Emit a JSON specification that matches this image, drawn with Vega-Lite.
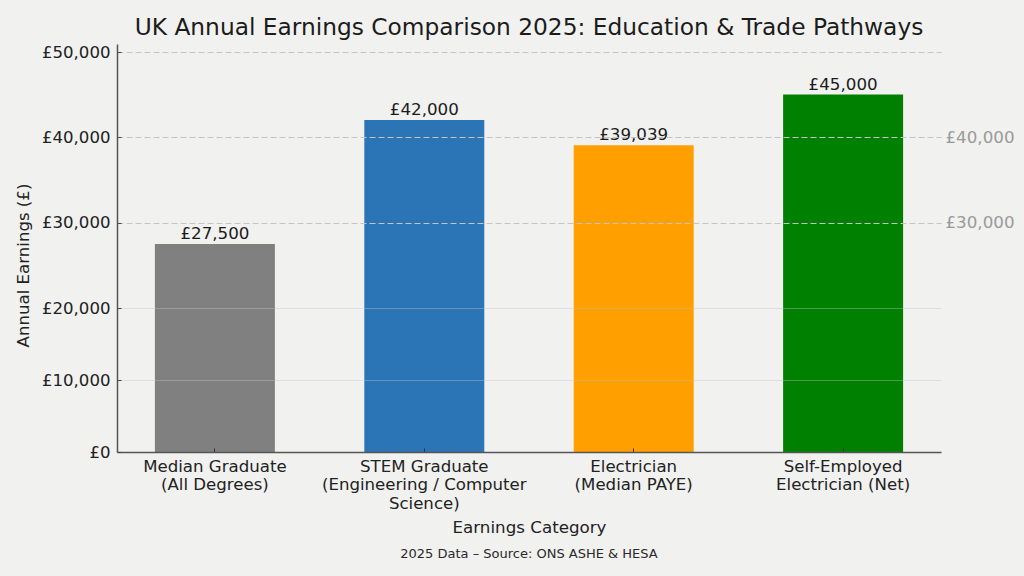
{
  "$schema": "https://vega.github.io/schema/vega-lite/v6.json",
  "width": 824,
  "height": 408,
  "autosize": "none",
  "padding": {"left": 117, "top": 44, "right": 83, "bottom": 124},
  "background": "#f1f1f0",
  "title": {
    "text": "UK Annual Earnings Comparison 2025: Education & Trade Pathways",
    "subtitle": "2025 Data – Source: ONS ASHE & HESA",
    "anchor": "middle",
    "frame": "group",
    "font": "DejaVu Sans",
    "fontWeight": "normal",
    "fontSize": 23.3,
    "color": "#1c1c1c",
    "subtitleFont": "DejaVu Sans",
    "subtitleFontSize": 13,
    "subtitleColor": "#2a2a2a",
    "subtitlePadding": 508,
    "offset": -518
  },
  "data": {
    "values": [
      {"category": "Median Graduate|(All Degrees)", "earnings": 27500, "label": "£27,500", "color": "#808080"},
      {"category": "STEM Graduate|(Engineering / Computer|Science)", "earnings": 42000, "label": "£42,000", "color": "#2b75b6"},
      {"category": "Electrician|(Median PAYE)", "earnings": 39039, "label": "£39,039", "color": "#ff9f00"},
      {"category": "Self-Employed|Electrician (Net)", "earnings": 45000, "label": "£45,000", "color": "#008000"}
    ]
  },
  "encoding": {
    "x": {
      "field": "category",
      "type": "nominal",
      "sort": null,
      "scale": {"paddingInner": 0.427, "paddingOuter": 0.181},
      "axis": {
        "title": "Earnings Category",
        "titleFont": "DejaVu Sans",
        "titleFontSize": 16.7,
        "titleFontWeight": "normal",
        "titleColor": "#222222",
        "titlePadding": 8,
        "labelAngle": 0,
        "labelFont": "DejaVu Sans",
        "labelFontSize": 16.6,
        "labelColor": "#222222",
        "labelLineHeight": 18.5,
        "labelPadding": 10,
        "labelExpr": "split(datum.value, '|')",
        "labelLimit": 0,
        "domainColor": "#555555",
        "domainWidth": 1.5,
        "tickColor": "#333333",
        "tickSize": -4,
        "zindex": 1
      }
    },
    "y": {
      "field": "earnings",
      "type": "quantitative",
      "scale": {
        "domain": [0, 10000, 20000, 30000, 40000, 50000, 51000],
        "range": [408, 336, 264, 178.5, 93, 8, 0]
      }
    }
  },
  "layer": [
    {
      "mark": {"type": "bar"},
      "encoding": {
        "color": {"field": "color", "type": "nominal", "scale": null},
        "y": {
          "field": "earnings",
          "type": "quantitative",
          "axis": {
            "title": "Annual Earnings (£)",
            "titleFont": "DejaVu Sans",
            "titleFontSize": 16.6,
            "titleFontWeight": "normal",
            "titleColor": "#222222",
            "titlePadding": 10,
            "titleY": 221,
            "values": [0, 10000, 20000, 30000, 40000, 50000],
            "labelExpr": "'£' + format(datum.value, ',')",
            "labelFont": "DejaVu Sans",
            "labelFontSize": 16.6,
            "labelColor": "#222222",
            "labelPadding": 11,
            "domainColor": "#555555",
            "domainWidth": 1.5,
            "tickColor": "#444444",
            "tickSize": -4,
            "grid": true,
            "gridColor": "#c4c4c4",
            "gridOpacity": {"condition": {"test": "datum.value >= 30000", "value": 1}, "value": 0.4},
            "gridDash": {"condition": {"test": "datum.value >= 30000", "value": [6, 3]}, "value": []},
            "zindex": 1
          }
        }
      }
    },
    {
      "mark": {
        "type": "text",
        "baseline": "bottom",
        "dy": -1,
        "font": "DejaVu Sans",
        "fontSize": 16.7,
        "color": "#1c1c1c"
      },
      "encoding": {
        "text": {"field": "label", "type": "nominal"},
        "y": {
          "field": "earnings",
          "type": "quantitative",
          "axis": {
            "orient": "right",
            "title": null,
            "values": [30000, 40000],
            "labelExpr": "'£' + format(datum.value, ',')",
            "labelFont": "DejaVu Sans",
            "labelFontSize": 16.7,
            "labelColor": "#9a9a9a",
            "labelPadding": 4,
            "domain": false,
            "ticks": false,
            "grid": false
          }
        }
      }
    }
  ],
  "resolve": {"axis": {"y": "independent"}},
  "config": {"view": {"stroke": null}}
}
